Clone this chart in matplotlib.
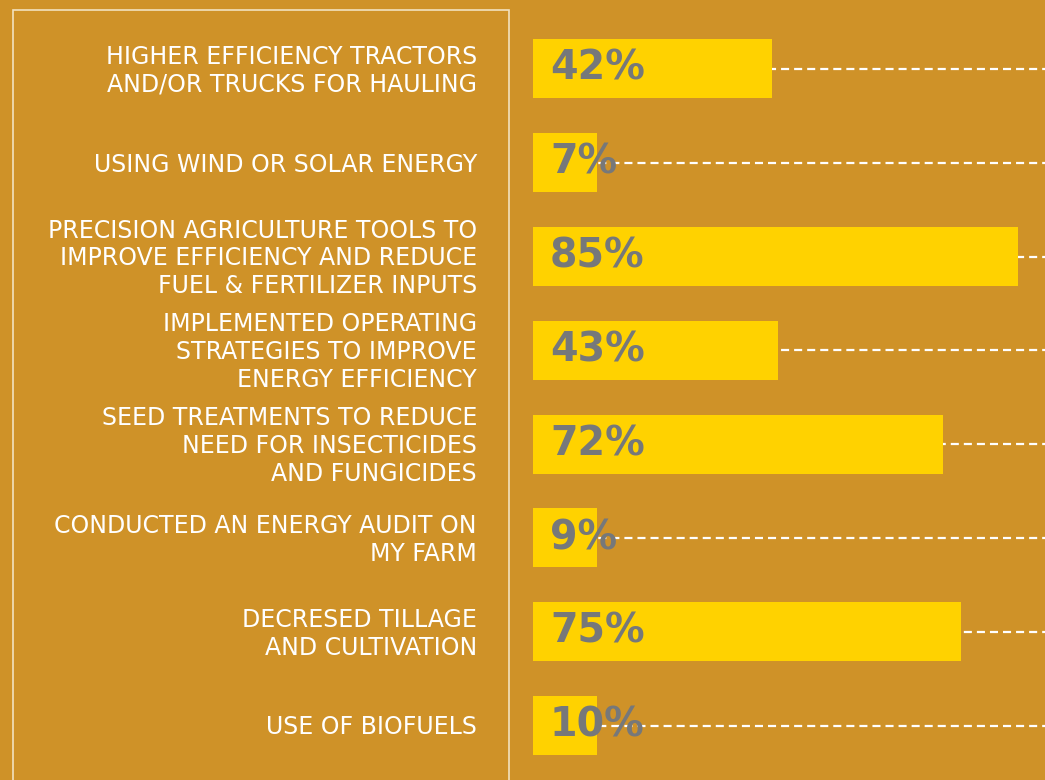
import matplotlib
matplotlib.use("Agg")
import matplotlib.pyplot as plt
from matplotlib.patches import Rectangle

categories = [
    "HIGHER EFFICIENCY TRACTORS\nAND/OR TRUCKS FOR HAULING",
    "USING WIND OR SOLAR ENERGY",
    "PRECISION AGRICULTURE TOOLS TO\nIMPROVE EFFICIENCY AND REDUCE\nFUEL & FERTILIZER INPUTS",
    "IMPLEMENTED OPERATING\nSTRATEGIES TO IMPROVE\nENERGY EFFICIENCY",
    "SEED TREATMENTS TO REDUCE\nNEED FOR INSECTICIDES\nAND FUNGICIDES",
    "CONDUCTED AN ENERGY AUDIT ON\nMY FARM",
    "DECRESED TILLAGE\nAND CULTIVATION",
    "USE OF BIOFUELS",
]
values = [42, 7, 85, 43, 72, 9, 75, 10]
value_labels = ["42%", "7%", "85%", "43%", "72%", "9%", "75%", "10%"]

BG = "#CF9228"
YELLOW = "#FFD200"
GRAY = "#76787A"
W, H = 1045, 780
px_per_unit = 5.7
x0_px = 533
row0_px, row_step = 69, 93.8
min_bar = 11.2  # minimum displayed bar length for tiny values

plt.rcParams["lines.scale_dashes"] = False
fig = plt.figure(figsize=(W / 100, H / 100), dpi=100, facecolor=BG)
ax = fig.add_axes([x0_px / W, 0, (W - x0_px) / W, 1])
ax.set_facecolor(BG)
ax.set_xlim(0, (W - x0_px) / px_per_unit)
ax.set_ylim((H - row0_px) / row_step, -row0_px / row_step)
ax.axis("off")

ys = list(range(len(values)))
for y in ys:
    ax.plot([0, ax.get_xlim()[1]], [y, y], color="white", lw=1.6,
            linestyle=(0, (5.8, 3.6)), zorder=1, solid_capstyle="butt")
ax.barh(ys, [max(v, min_bar) for v in values], height=59 / row_step,
        color=YELLOW, zorder=2, left=0)
for y, t in zip(ys, value_labels):
    ax.text(17 / px_per_unit, y, t, color=GRAY, fontsize=28.5, fontweight="bold",
            va="center", ha="left", zorder=3, family="DejaVu Sans")
label_x = (477 - x0_px) / px_per_unit
for y, c in zip(ys, categories):
    ax.text(label_x, y + 0.02, c, color="white", fontsize=17, ha="right", va="center",
            multialignment="right", linespacing=1.2, clip_on=False,
            family="DejaVu Sans")

fig.add_artist(Rectangle((13 / W, -0.05), 496 / W, (H - 10) / H + 0.05,
                         transform=fig.transFigure, fill=False,
                         edgecolor="#F2E2BF", lw=1.2))
fig.savefig("out.png", dpi=100, facecolor=BG)
